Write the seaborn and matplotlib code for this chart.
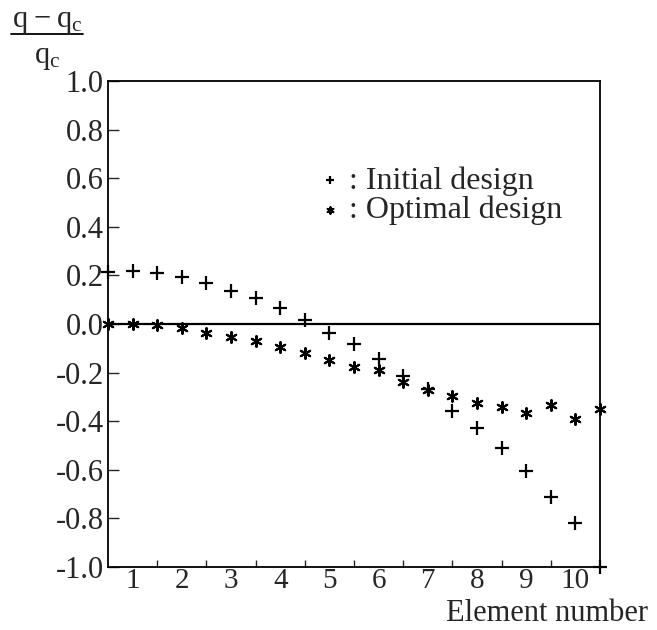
import numpy as np
import pandas as pd
import seaborn as sns
import matplotlib.pyplot as plt
from matplotlib.lines import Line2D
from matplotlib.ticker import FixedLocator, FixedFormatter, FormatStrFormatter

# node positions along the structure (half-element steps)
node_pos = [0.0, 0.5, 1.0, 1.5, 2.0, 2.5, 3.0, 3.5, 4.0, 4.5, 5.0,
            5.5, 6.0, 6.5, 7.0, 7.5, 8.0, 8.5, 9.0, 9.5, 10.0]

initial_design = [0.215, 0.22, 0.209, 0.195, 0.167, 0.137, 0.106, 0.067, 0.018, -0.037, -0.083,
                  -0.143, -0.214, -0.269, -0.358, -0.427, -0.512, -0.605, -0.713, -0.818, -1.0]
optimal_design = [0.0, 0.0, -0.005, -0.016, -0.035, -0.054, -0.072, -0.095, -0.118, -0.148, -0.178,
                  -0.189, -0.237, -0.272, -0.296, -0.324, -0.34, -0.368, -0.335, -0.392, -0.351]

element_labels = [str(i) for i in range(1, 11)]
element_centres = [i - 0.5 for i in range(1, 11)]
element_bounds = list(range(1, 10))
y_ticks = [-1.0, -0.8, -0.6, -0.4, -0.2, 0.0, 0.2, 0.4, 0.6, 0.8, 1.0]

sns.set_style('white')
plt.rcParams['font.family'] = ['Liberation Serif', 'DejaVu Serif']
plt.rcParams['mathtext.fontset'] = 'custom'
plt.rcParams['mathtext.rm'] = 'Liberation Serif'
plt.rcParams['axes.unicode_minus'] = False
FS = 22
FS_X = 21
FS_BIG = 23

df = pd.DataFrame({'x': node_pos, 'initial': initial_design, 'optimal': optimal_design})

fig = plt.figure(figsize=(6.57, 6.3), dpi=100)
ax = fig.add_axes([108 / 657, 1 - 567 / 630, 492 / 657, 486 / 630])

g = sns.scatterplot(data=df, x='x', y='initial', marker='+', s=90, color='black',
                    linewidth=1.6, label=': Initial design', ax=ax, clip_on=False)
sns.scatterplot(data=df, x='x', y='optimal', marker=(6, 2, 0), s=60, color='black',
                linewidth=1.5, label=': Optimal design', ax=ax, clip_on=False)

ax.axhline(0, color='black', lw=1.6)

ax.set_xlim(0, 10)
ax.set_ylim(-1, 1)
ax.set_xlabel('')
ax.set_ylabel('')

for s in ax.spines.values():
    s.set_color('black')
    s.set_linewidth(1.3)

ax.yaxis.set_major_locator(FixedLocator(y_ticks))
ax.yaxis.set_major_formatter(FormatStrFormatter('%.1f'))
ax.tick_params(axis='y', direction='in', length=8, width=1, labelsize=FS, pad=3, left=True)

ax.xaxis.set_major_locator(FixedLocator(element_centres))
ax.xaxis.set_major_formatter(FixedFormatter(element_labels))
ax.xaxis.set_minor_locator(FixedLocator(element_bounds))
ax.tick_params(axis='x', which='major', length=0, labelsize=FS_X, pad=1)
ax.tick_params(axis='x', which='minor', direction='in', length=5, width=1, bottom=True)

ax.legend(loc='upper left', bbox_to_anchor=(0.435, 0.825), frameon=False, fontsize=FS_BIG,
          handlelength=0.5, handletextpad=0.35, labelspacing=0.0, borderpad=0,
          borderaxespad=0, markerscale=0.6)

# y label as a stacked fraction
fig.text(47 / 657, 1 - 21 / 630, r'$\mathrm{q} - \mathrm{q_c}$', ha='center', va='center', fontsize=FS)
fig.add_artist(Line2D([11 / 657, 83 / 657], [1 - 34 / 630, 1 - 34 / 630], color='black', lw=1.3))
fig.text(47 / 657, 1 - 58 / 630, r'$\mathrm{q_c}$', ha='center', va='center', fontsize=FS)

fig.text(648 / 657, 1 - 621 / 630, 'Element number', ha='right', va='baseline', fontsize=FS)

fig.savefig('out.png', dpi=100)
